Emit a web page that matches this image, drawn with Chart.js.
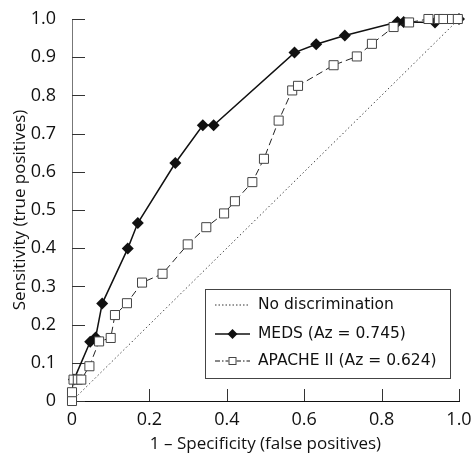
<!DOCTYPE html>
<html>
<head>
<meta charset="utf-8">
<script src="https://cdn.jsdelivr.net/npm/chart.js@4"></script>
<style>
  html, body { margin: 0; padding: 0; background: #fff; }
  #wrap { width: 472px; height: 454px; }
</style>
</head>
<body>
<div id="wrap"><canvas id="myChart" width="472" height="454"></canvas></div>
<script>
// ROC curves, values
const xTicks = [0, 0.2, 0.4, 0.6, 0.8, 1.0];
const xTickLabels = ['0', '0.2', '0.4', '0.6', '0.8', '1.0'];
const yTicks = [0, 0.1, 0.2, 0.3, 0.4, 0.5, 0.6, 0.7, 0.8, 0.9, 1.0];
const yTickLabels = ['0', '0.1', '0.2', '0.3', '0.4', '0.5', '0.6', '0.7', '0.8', '0.9', '1.0'];

const diagX = [0, 1];
const diagY = [0, 1];

const medsX = [0.005, 0.047, 0.061, 0.078, 0.144, 0.170, 0.267, 0.338, 0.366, 0.575, 0.631, 0.705, 0.841, 0.857, 0.938, 1.0];
const medsY = [0.056, 0.155, 0.166, 0.255, 0.399, 0.466, 0.623, 0.722, 0.722, 0.912, 0.934, 0.957, 0.992, 0.992, 0.991, 1.0];

const apacheX = [0, 0, 0.004, 0.015, 0.024, 0.045, 0.070, 0.100, 0.111, 0.142, 0.181, 0.234, 0.299, 0.347, 0.393, 0.421, 0.466, 0.496, 0.534, 0.569, 0.584, 0.676, 0.736, 0.775, 0.831, 0.871, 0.921, 0.948, 0.960, 0.982, 0.997];
const apacheY = [0, 0.023, 0.056, 0.056, 0.056, 0.091, 0.156, 0.165, 0.225, 0.256, 0.310, 0.333, 0.410, 0.455, 0.491, 0.523, 0.573, 0.634, 0.734, 0.813, 0.825, 0.879, 0.902, 0.935, 0.979, 0.991, 1.0, 1.0, 1.0, 1.0, 1.0];

const legendLabels = ['No discrimination', 'MEDS (Az = 0.745)', 'APACHE II (Az = 0.624)'];

const FONT = '"Open Sans", "Noto Sans", sans-serif';
const LEGEND_FONT = '"DejaVu Sans", sans-serif';

function pts(xs, ys) {
    return xs.map((x, i) => ({ x: x, y: ys[i] }));
}

// ticks pointing into the plot, like the original
const inwardTicks = {
    id: 'inwardTicks',
    beforeDatasetsDraw(chart) {
        const ctx = chart.ctx;
        const a = chart.chartArea;
        const xs = chart.scales.x, ys = chart.scales.y;
        ctx.save();
        ctx.lineWidth = 1;
        ctx.strokeStyle = '#333';
        yTicks.forEach(v => {
            const py = Math.round(ys.getPixelForValue(v)) + 0.5;
            ctx.beginPath();
            ctx.moveTo(a.left, py);
            ctx.lineTo(a.left + 13, py);
            ctx.stroke();
        });
        xTicks.forEach(v => {
            const px = Math.round(xs.getPixelForValue(v)) + 0.5;
            ctx.beginPath();
            ctx.moveTo(px, a.bottom);
            ctx.lineTo(px, a.bottom - 12);
            ctx.stroke();
        });
        ctx.restore();
    }
};

// legend box in the lower right of the plot
const boxLegend = {
    id: 'boxLegend',
    afterDraw(chart) {
        const ctx = chart.ctx;
        const a = chart.chartArea;
        const left = a.left + 133, right = a.right - 9;
        const top = a.top + 270, bottom = a.bottom - 23;
        ctx.save();
        ctx.fillStyle = '#fff';
        ctx.fillRect(left, top, right - left, bottom - top);
        ctx.strokeStyle = '#444';
        ctx.lineWidth = 1;
        ctx.strokeRect(left + 0.5, top + 0.5, right - left, bottom - top);

        const rows = [top + 16, top + 45, top + 72];
        const x0 = left + 10, x1 = left + 45, tx = left + 53;
        ctx.font = '15.5px ' + LEGEND_FONT;
        ctx.textBaseline = 'middle';
        ctx.fillStyle = '#111';

        // dotted
        ctx.strokeStyle = '#333';
        ctx.setLineDash([1.5, 2]);
        ctx.beginPath(); ctx.moveTo(x0, rows[0]); ctx.lineTo(x1, rows[0]); ctx.stroke();
        // solid + diamond
        ctx.setLineDash([]);
        ctx.strokeStyle = '#111';
        ctx.lineWidth = 1.5;
        ctx.beginPath(); ctx.moveTo(x0, rows[1]); ctx.lineTo(x1, rows[1]); ctx.stroke();
        const cx = (x0 + x1) / 2;
        ctx.beginPath();
        ctx.moveTo(cx, rows[1] - 5); ctx.lineTo(cx + 5, rows[1]);
        ctx.lineTo(cx, rows[1] + 5); ctx.lineTo(cx - 5, rows[1]);
        ctx.closePath(); ctx.fillStyle = '#111'; ctx.fill();
        // dash-dot + square
        ctx.lineWidth = 1;
        ctx.setLineDash([5, 2, 1.5, 2]);
        ctx.beginPath(); ctx.moveTo(x0, rows[2]); ctx.lineTo(x1, rows[2]); ctx.stroke();
        ctx.setLineDash([]);
        ctx.fillStyle = '#fff';
        ctx.fillRect(cx - 4, rows[2] - 4, 8, 8);
        ctx.strokeStyle = '#444';
        ctx.strokeRect(cx - 3.5, rows[2] - 3.5, 7, 7);

        ctx.fillStyle = '#111';
        legendLabels.forEach((t, i) => ctx.fillText(t, tx, rows[i]));
        ctx.restore();
    }
};

const ctx = document.getElementById('myChart').getContext('2d');
const chart = new Chart(ctx, {
    type: 'scatter',
    data: {
        datasets: [
            {
                label: legendLabels[0],
                data: pts(diagX, diagY),
                showLine: true,
                borderColor: '#444',
                borderWidth: 1,
                borderDash: [1.5, 2.5],
                pointRadius: 0,
                order: 3
            },
            {
                label: legendLabels[1],
                data: pts(medsX, medsY),
                showLine: true,
                borderColor: '#111',
                borderWidth: 1.5,
                pointStyle: 'rectRot',
                pointRadius: 6,
                pointBackgroundColor: '#111',
                pointBorderColor: '#111',
                pointBorderWidth: 0,
                order: 2
            },
            {
                label: legendLabels[2],
                data: pts(apacheX, apacheY),
                showLine: true,
                borderColor: '#222',
                borderWidth: 1,
                borderDash: [7, 4],
                pointStyle: 'rect',
                pointRadius: 6.4,
                pointBackgroundColor: '#fff',
                pointBorderColor: '#444',
                pointBorderWidth: 1,
                order: 1
            }
        ]
    },
    options: {
        responsive: false,
        animation: false,
        clip: false,
        layout: { padding: { top: 19, right: 13, left: 0, bottom: 0 } },
        plugins: {
            legend: { display: false },
            tooltip: { enabled: false }
        },
        scales: {
            x: {
                type: 'linear',
                min: 0, max: 1,
                afterBuildTicks: s => { s.ticks = xTicks.map(v => ({ value: v })); },
                afterFit: s => { s.height = 53; },
                grid: { display: false },
                border: { display: true, color: '#111', width: 1 },
                ticks: {
                    color: '#111',
                    font: { family: FONT, size: 18 },
                    padding: 0,
                    maxRotation: 0,
                    callback: (v, i) => xTickLabels[i]
                },
                title: {
                    display: true,
                    text: '1 \u2013 Specificity (false positives)',
                    color: '#111',
                    font: { family: FONT, size: 17 },
                    padding: { top: 9, bottom: 0 }
                }
            },
            y: {
                type: 'linear',
                min: 0, max: 1,
                afterBuildTicks: s => { s.ticks = yTicks.map(v => ({ value: v })); },
                afterFit: s => { s.width = 72; },
                grid: { display: false },
                border: { display: true, color: '#777', width: 1 },
                ticks: {
                    color: '#111',
                    font: { family: FONT, size: 18 },
                    padding: 8,
                    callback: (v, i) => yTickLabels[i]
                },
                title: {
                    display: true,
                    text: 'Sensitivity (true positives)',
                    color: '#111',
                    font: { family: FONT, size: 17 },
                    padding: { top: 10, bottom: 0 }
                }
            }
        }
    },
    plugins: [inwardTicks, boxLegend]
});
</script>
</body>
</html>
